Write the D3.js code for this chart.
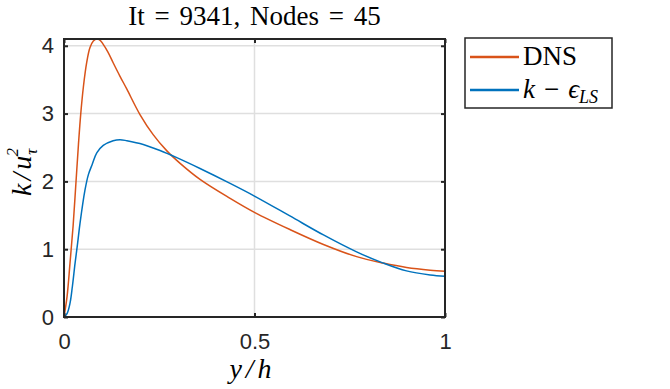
<!DOCTYPE html>
<html>
<head>
<meta charset="utf-8">
<script src="https://cdn.jsdelivr.net/npm/d3@7"></script>
<style>
    body { margin: 0; background: #fff; }
    svg { display: block; }
    .tick text { font-family: "Liberation Sans", Arial, sans-serif; font-size: 22px; fill: #262626; }
    .serif { font-family: "Liberation Serif", "Times New Roman", serif; fill: #000; }
</style>
</head>
<body>
<div id="chart"></div>
<script>
    // data
    const dnsX = [0, 0.008, 0.0157, 0.024, 0.031, 0.038, 0.044, 0.051, 0.0595, 0.068, 0.077, 0.086, 0.095, 0.103, 0.115, 0.129, 0.147, 0.165, 0.199, 0.234, 0.27, 0.304, 0.357, 0.436, 0.501, 0.593, 0.681, 0.768, 0.838, 0.899, 0.961, 1.0];
    const dnsY = [0, 0.3, 0.79, 1.35, 1.95, 2.55, 3.0, 3.40, 3.75, 3.97, 4.07, 4.10, 4.08, 4.02, 3.91, 3.75, 3.55, 3.36, 2.99, 2.69, 2.45, 2.27, 2.03, 1.75, 1.54, 1.29, 1.07, 0.89, 0.795, 0.73, 0.69, 0.675];
    const kepsX = [0, 0.008, 0.0157, 0.022, 0.029, 0.036, 0.042, 0.055, 0.064, 0.074, 0.086, 0.103, 0.129, 0.147, 0.165, 0.208, 0.252, 0.296, 0.357, 0.436, 0.501, 0.593, 0.681, 0.768, 0.838, 0.899, 0.961, 1.0];
    const kepsY = [0, 0.05, 0.2, 0.45, 0.79, 1.1, 1.38, 1.87, 2.1, 2.25, 2.42, 2.53, 2.60, 2.615, 2.60, 2.545, 2.455, 2.35, 2.19, 1.97, 1.78, 1.49, 1.21, 0.96, 0.795, 0.68, 0.62, 0.60];
    const xTicks = [0, 0.5, 1];
    const yTicks = [0, 1, 2, 3, 4];

    const W = 670, H = 389;
    const mLeft = 64, mRight = 445, mTop = 39, mBottom = 317;

    const svg = d3.select("#chart").append("svg").attr("width", W).attr("height", H);

    const x = d3.scaleLinear().domain([0, 1]).range([mLeft, mRight]);
    const y = d3.scaleLinear().domain([0, 4.1]).range([mBottom, mTop]);

    // grid
    svg.append("g").selectAll("line").data(yTicks.slice(1)).join("line")
        .attr("x1", mLeft).attr("x2", mRight)
        .attr("y1", d => y(d)).attr("y2", d => y(d))
        .attr("stroke", "#dfdfdf").attr("stroke-width", 1.5);
    svg.append("g").selectAll("line").data([0.5]).join("line")
        .attr("x1", d => x(d)).attr("x2", d => x(d))
        .attr("y1", mTop).attr("y2", mBottom)
        .attr("stroke", "#dfdfdf").attr("stroke-width", 1.5);

    // curves
    const line = d3.line().x(d => x(d[0])).y(d => y(d[1])).curve(d3.curveCatmullRom.alpha(0.5));
    const dns = dnsX.map((v, i) => [v, dnsY[i]]);
    const keps = kepsX.map((v, i) => [v, kepsY[i]]);
    svg.append("path").datum(dns).attr("d", line)
        .attr("fill", "none").attr("stroke", "#D95319").attr("stroke-width", 1.5);
    svg.append("path").datum(keps).attr("d", line)
        .attr("fill", "none").attr("stroke", "#0072BD").attr("stroke-width", 1.5);

    // axes (ticks inside, box on)
    const axB = svg.append("g").attr("transform", `translate(0,${mBottom})`)
        .call(d3.axisBottom(x).tickValues(xTicks).tickFormat(d3.format("")).tickSize(-4).tickPadding(16));
    const axL = svg.append("g").attr("transform", `translate(${mLeft},0)`)
        .call(d3.axisLeft(y).tickValues(yTicks).tickFormat(d3.format("")).tickSize(-4).tickPadding(10));
    const axT = svg.append("g").attr("transform", `translate(0,${mTop})`)
        .call(d3.axisTop(x).tickValues(xTicks).tickSize(-4).tickFormat(""));
    const axR = svg.append("g").attr("transform", `translate(${mRight},0)`)
        .call(d3.axisRight(y).tickValues(yTicks).tickSize(-4).tickFormat(""));
    [axB, axL, axT, axR].forEach(g => {
        g.select(".domain").remove();
        g.selectAll(".tick line").attr("stroke", "#262626").attr("stroke-width", 2);
    });
    axB.selectAll(".tick text").attr("dy", "0.71em");

    svg.append("rect")
        .attr("x", mLeft).attr("y", mTop)
        .attr("width", mRight - mLeft).attr("height", mBottom - mTop)
        .attr("fill", "none").attr("stroke", "#262626").attr("stroke-width", 2);

    // title
    svg.append("text").attr("class", "serif")
        .attr("x", (mLeft + mRight) / 2).attr("y", 25)
        .attr("text-anchor", "middle").attr("font-size", 27).attr("word-spacing", 3)
        .text("It = 9341, Nodes = 45");

    // x label
    svg.append("text").attr("class", "serif")
        .attr("x", (mLeft + mRight) / 2 - 2).attr("y", 378)
        .attr("text-anchor", "middle").attr("font-size", 28).attr("font-style", "italic")
        .attr("letter-spacing", 4)
        .text("y/h");

    // y label
    const yl = svg.append("text").attr("class", "serif")
        .attr("transform", "translate(31,172) rotate(-90)")
        .attr("text-anchor", "middle").attr("font-size", 28).attr("font-style", "italic");
    yl.append("tspan").attr("letter-spacing", 3).text("k/u");
    yl.append("tspan").attr("font-size", 17).attr("dy", 6).attr("dx", -2).text("τ");
    yl.append("tspan").attr("font-size", 17).attr("dy", -19).attr("dx", -8).text("2");

    // legend
    const lg = svg.append("g");
    lg.append("rect").attr("x", 465).attr("y", 38).attr("width", 147).attr("height", 70)
        .attr("fill", "#fff").attr("stroke", "#262626").attr("stroke-width", 1.5);
    const items = [
        { c: "#D95319", yy: 57 },
        { c: "#0072BD", yy: 90 }
    ];
    lg.selectAll("line").data(items).join("line")
        .attr("x1", 470).attr("x2", 519)
        .attr("y1", d => d.yy).attr("y2", d => d.yy)
        .attr("stroke", d => d.c).attr("stroke-width", 2.5);
    lg.append("text").attr("class", "serif")
        .attr("x", 523).attr("y", 65).attr("font-size", 27).text("DNS");
    const t2 = lg.append("text").attr("class", "serif")
        .attr("x", 523).attr("y", 98).attr("font-size", 27);
    t2.append("tspan").attr("font-style", "italic").text("k");
    t2.append("tspan").attr("dx", 9).text("−");
    t2.append("tspan").attr("dx", 9).attr("font-style", "italic").text("ϵ");
    t2.append("tspan").attr("font-size", 18).attr("dy", 5).attr("font-style", "italic").text("LS");
</script>
</body>
</html>
